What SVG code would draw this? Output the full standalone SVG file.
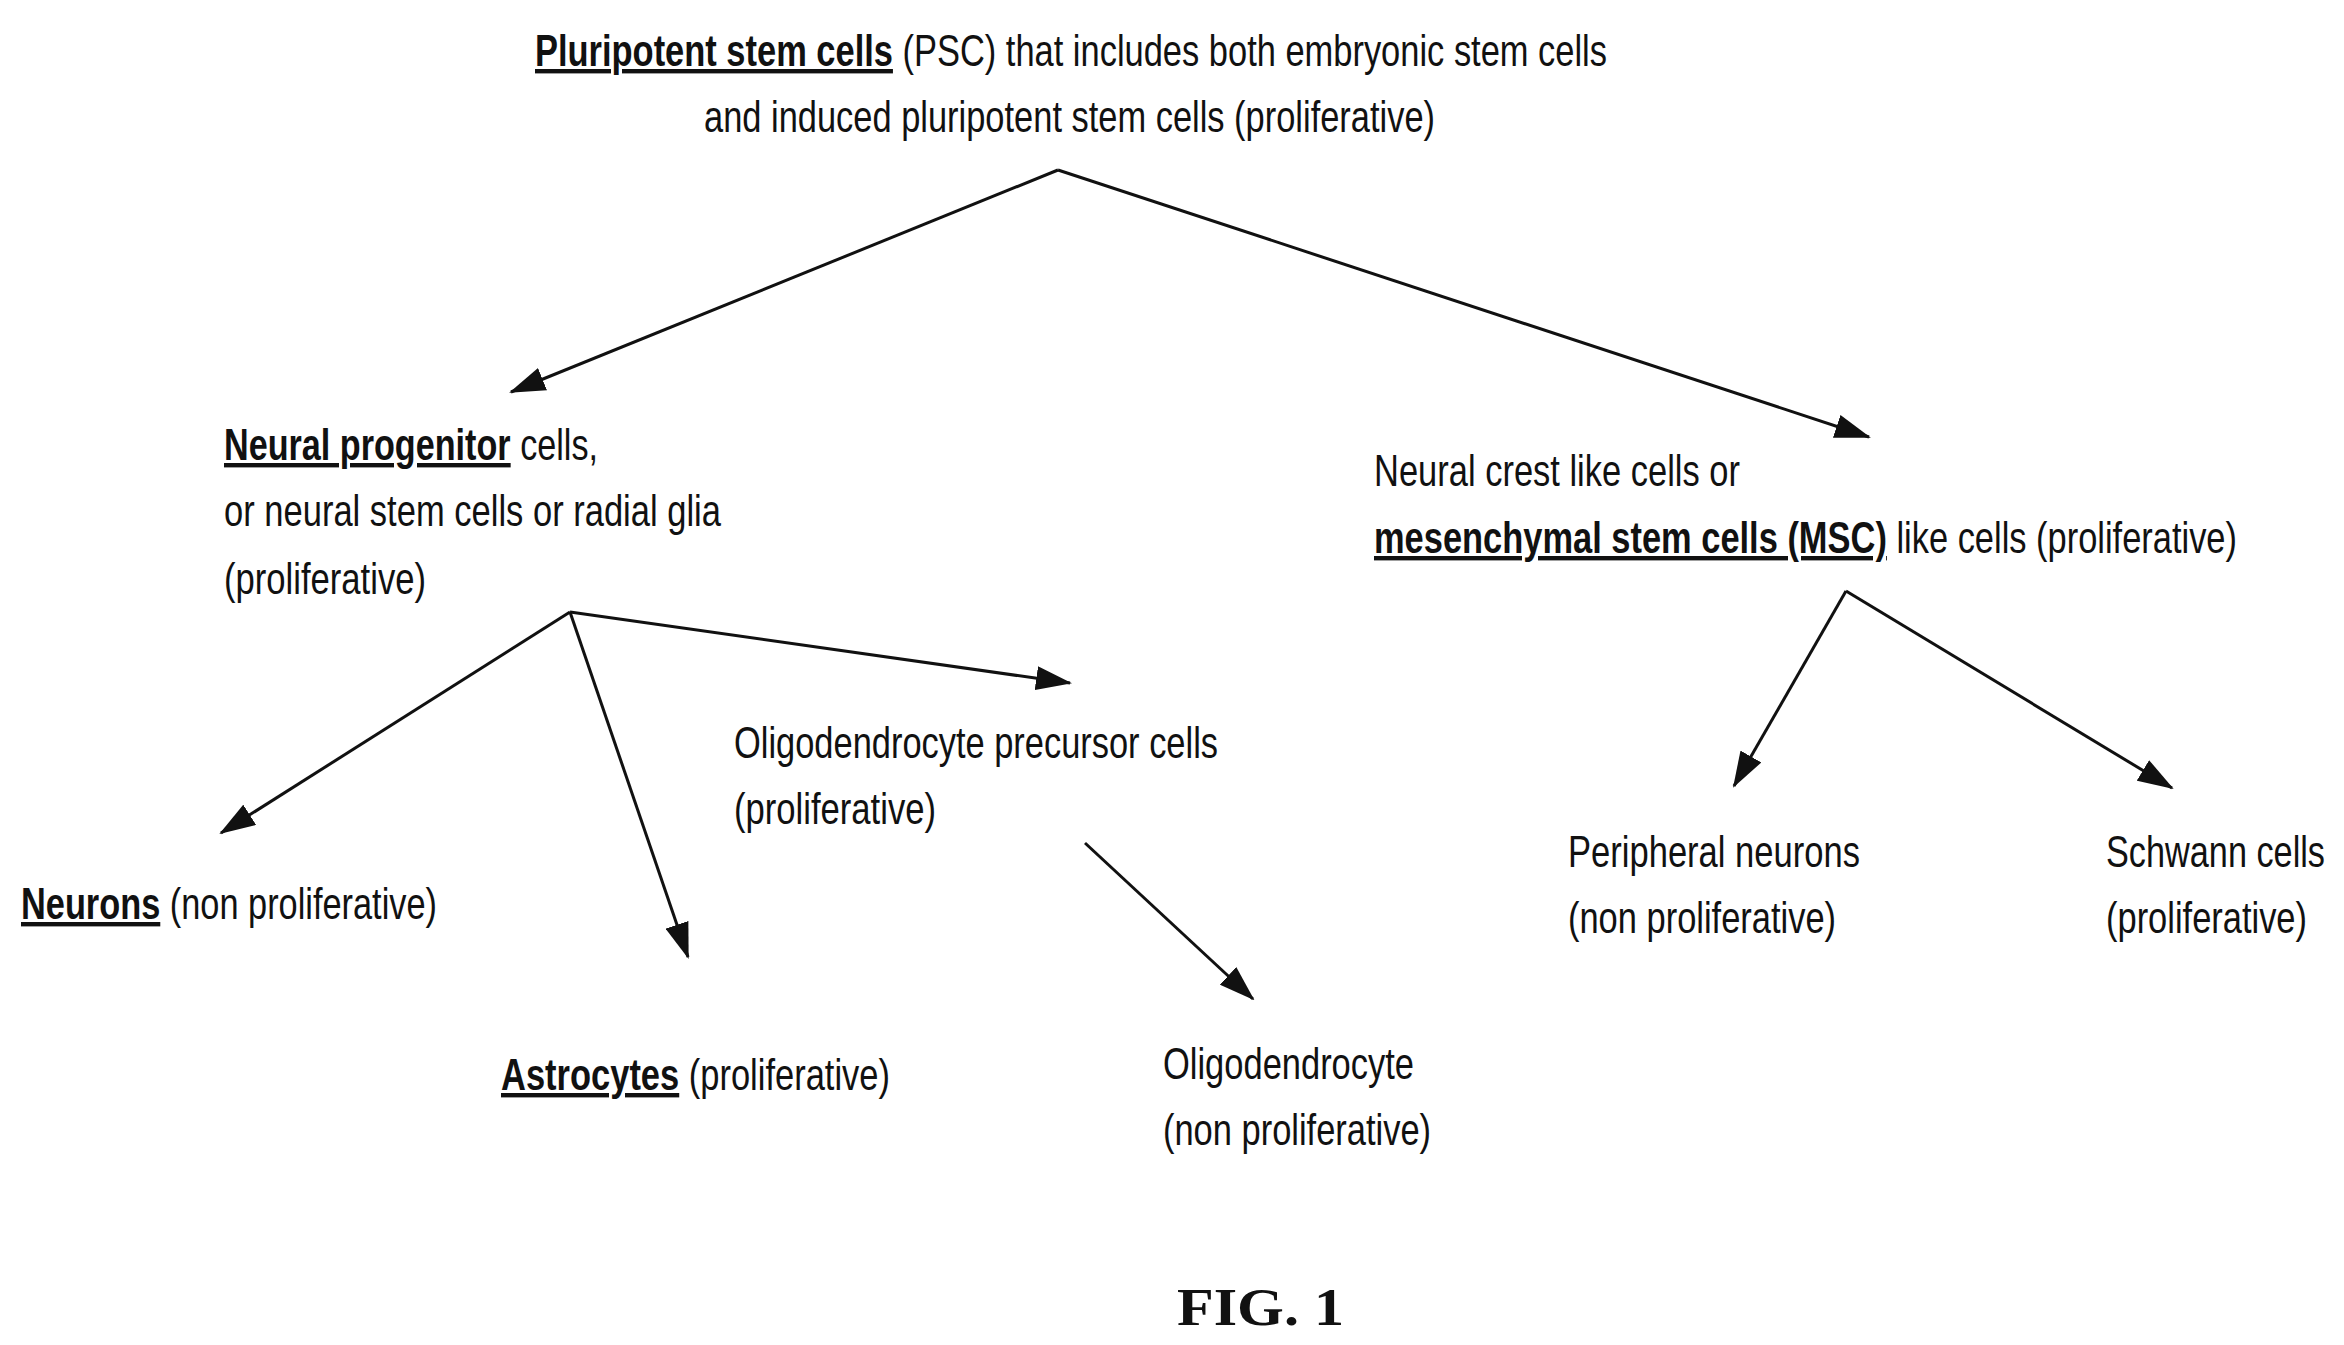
<svg xmlns="http://www.w3.org/2000/svg" width="2344" height="1345" viewBox="0 0 2344 1345">
<style>
text{font-family:"Liberation Sans Narrow","Liberation Sans",Arial,sans-serif;font-size:44px;fill:#111}
.b{font-weight:bold;text-decoration:underline}
.fig{font-family:"Liberation Serif","Times New Roman",serif;font-weight:bold;font-size:52px}
line{stroke:#111;stroke-width:3}
</style>
<defs>
<marker id="ah" markerUnits="userSpaceOnUse" markerWidth="36" markerHeight="24" refX="34" refY="12" orient="auto">
<path d="M0,0 L36,12 L0,24 Z" fill="#111"/>
</marker>
</defs>
<rect width="2344" height="1345" fill="#fff"/>
<g id="connectors">
<line x1="1058" y1="170" x2="511" y2="392" marker-end="url(#ah)"/>
<line x1="1058" y1="170" x2="1869" y2="437" marker-end="url(#ah)"/>
<line x1="570" y1="612" x2="221" y2="833" marker-end="url(#ah)"/>
<line x1="570" y1="612" x2="688" y2="957" marker-end="url(#ah)"/>
<line x1="570" y1="612" x2="1070" y2="683" marker-end="url(#ah)"/>
<line x1="1085" y1="843" x2="1253" y2="999" marker-end="url(#ah)"/>
<line x1="1846" y1="591" x2="1734" y2="786" marker-end="url(#ah)"/>
<line x1="1846" y1="591" x2="2172" y2="788" marker-end="url(#ah)"/>
</g>
<g id="psc">
<text x="535" y="66" textLength="1072" lengthAdjust="spacingAndGlyphs"><tspan class="b">Pluripotent stem cells</tspan> (PSC) that includes both embryonic stem cells</text>
<text x="704" y="132" textLength="731" lengthAdjust="spacingAndGlyphs">and induced pluripotent stem cells (proliferative)</text>
</g>
<g id="npc">
<text x="224" y="460" textLength="374" lengthAdjust="spacingAndGlyphs"><tspan class="b">Neural progenitor</tspan> cells,</text>
<text x="224" y="526" textLength="497" lengthAdjust="spacingAndGlyphs">or neural stem cells or radial glia</text>
<text x="224" y="594" textLength="202" lengthAdjust="spacingAndGlyphs">(proliferative)</text>
</g>
<g id="msc">
<text x="1374" y="486" textLength="366" lengthAdjust="spacingAndGlyphs">Neural crest like cells or</text>
<text x="1374" y="553" textLength="863" lengthAdjust="spacingAndGlyphs"><tspan class="b">mesenchymal stem cells (MSC)</tspan> like cells (proliferative)</text>
</g>
<g id="opc">
<text x="734" y="758" textLength="484" lengthAdjust="spacingAndGlyphs">Oligodendrocyte precursor cells</text>
<text x="734" y="824" textLength="202" lengthAdjust="spacingAndGlyphs">(proliferative)</text>
</g>
<g id="neurons">
<text x="21" y="919" textLength="416" lengthAdjust="spacingAndGlyphs"><tspan class="b">Neurons</tspan> (non proliferative)</text>
</g>
<g id="astro">
<text x="501" y="1090" textLength="389" lengthAdjust="spacingAndGlyphs"><tspan class="b">Astrocytes</tspan> (proliferative)</text>
</g>
<g id="oligo">
<text x="1163" y="1079" textLength="251" lengthAdjust="spacingAndGlyphs">Oligodendrocyte</text>
<text x="1163" y="1145" textLength="268" lengthAdjust="spacingAndGlyphs">(non proliferative)</text>
</g>
<g id="peripheral">
<text x="1568" y="867" textLength="292" lengthAdjust="spacingAndGlyphs">Peripheral neurons</text>
<text x="1568" y="933" textLength="268" lengthAdjust="spacingAndGlyphs">(non proliferative)</text>
</g>
<g id="schwann">
<text x="2106" y="867" textLength="219" lengthAdjust="spacingAndGlyphs">Schwann cells</text>
<text x="2106" y="933" textLength="201" lengthAdjust="spacingAndGlyphs">(proliferative)</text>
</g>
<text class="fig" x="1177" y="1325" textLength="167" lengthAdjust="spacingAndGlyphs">FIG. 1</text>
</svg>
